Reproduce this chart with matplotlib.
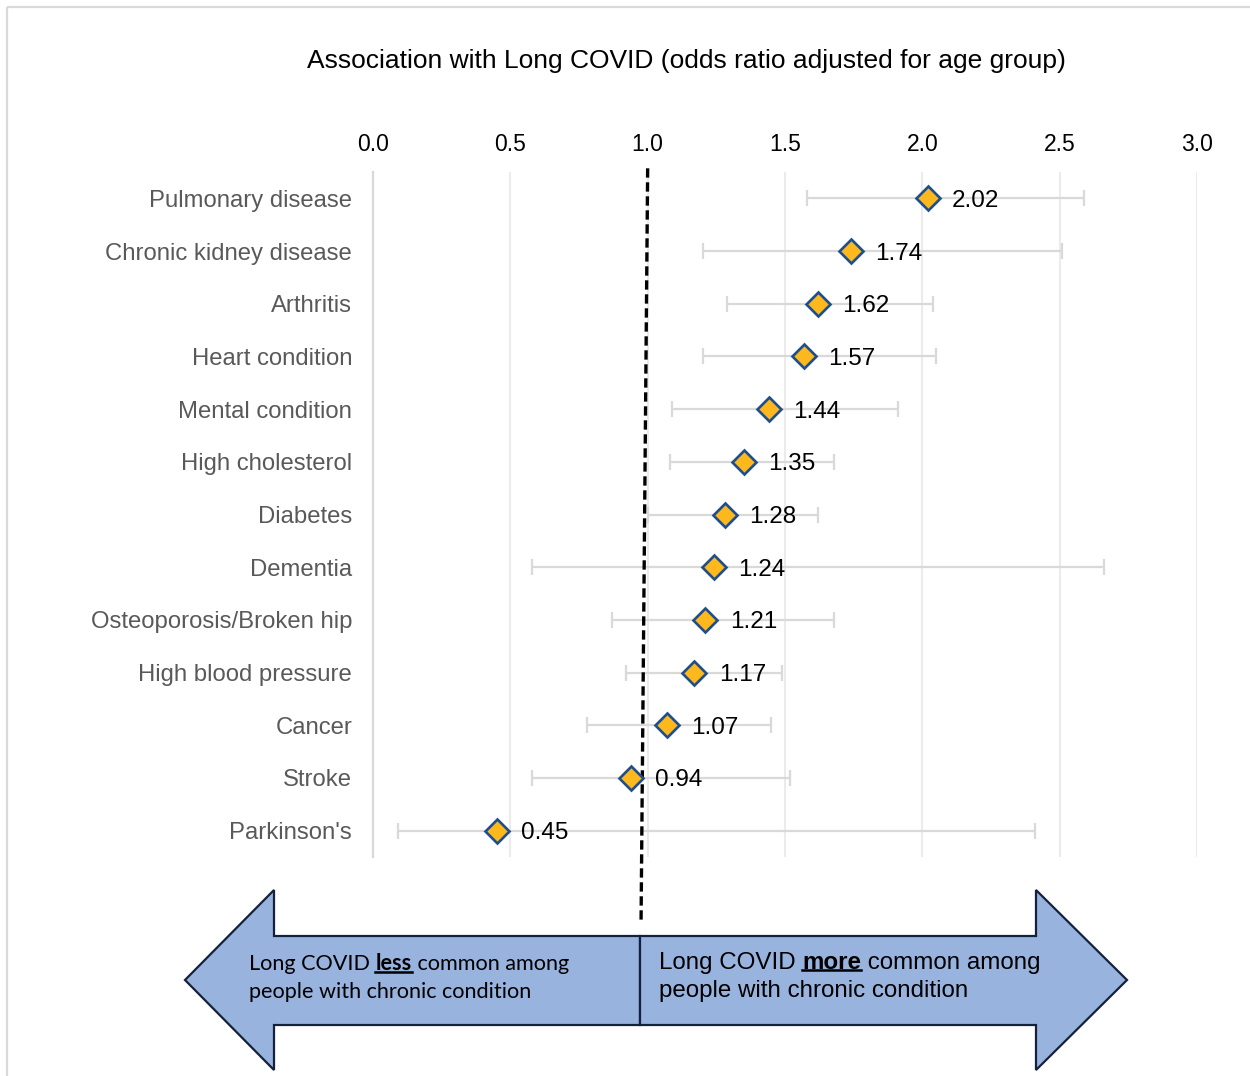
import matplotlib
matplotlib.use("Agg")
import matplotlib.pyplot as plt
from matplotlib.patches import Polygon, Rectangle

# data
conditions = ["Pulmonary disease", "Chronic kidney disease", "Arthritis", "Heart condition",
              "Mental condition", "High cholesterol", "Diabetes", "Dementia",
              "Osteoporosis/Broken hip", "High blood pressure", "Cancer", "Stroke", "Parkinson's"]
odds = [2.02, 1.74, 1.62, 1.57, 1.44, 1.35, 1.28, 1.24, 1.21, 1.17, 1.07, 0.94, 0.45]
ci_low = [1.58, 1.20, 1.29, 1.20, 1.09, 1.08, 1.00, 0.58, 0.87, 0.92, 0.78, 0.58, 0.09]
ci_high = [2.59, 2.51, 2.04, 2.05, 1.91, 1.68, 1.62, 2.66, 1.68, 1.49, 1.45, 1.52, 2.41]
xticks = [0.0, 0.5, 1.0, 1.5, 2.0, 2.5, 3.0]

W, H = 1250, 1076
fig = plt.figure(figsize=(W / 100, H / 100), dpi=100)
plt.rcParams['font.family'] = ['Liberation Sans', 'DejaVu Sans']

# main plot area in pixels: left 373, right 1197, top 172, bottom 857
ax = fig.add_axes([373 / W, 1 - 857 / H, (1197 - 373) / W, (857 - 172) / H])
ypos = list(range(len(conditions)))

err_lo = [o - l for o, l in zip(odds, ci_low)]
err_hi = [h - o for o, h in zip(odds, ci_high)]
ax.errorbar(odds, ypos, xerr=[err_lo, err_hi], fmt='none', ecolor='#D9D9D9',
            elinewidth=1.6, capsize=5.5, capthick=1.6, zorder=2)
ax.plot(odds, ypos, linestyle='none', marker='D', markersize=12,
        markerfacecolor='#FDB81E', markeredgecolor='#1F4E8C', markeredgewidth=1.9, zorder=4)
for o, y in zip(odds, ypos):
    ax.annotate(f"{o:.2f}", (o, y), xytext=(17.5, 0), textcoords='offset points',
                va='center_baseline', ha='left', fontsize=17.5, color='black', zorder=5)

# reference line at OR = 1 (slightly slanted like the original)
ax.plot([1.0, 0.976], [-0.57, 13.69], linestyle=(0, (2.8, 1.4)), color='black',
        linewidth=2.4, clip_on=False, zorder=3)

ax.set_xlim(0, 3.0)
ax.set_ylim(len(conditions) - 0.5, -0.5)
ax.set_xticks(xticks)
ax.set_xticklabels([f"{t:.1f}" for t in xticks], fontsize=16.5, color='black')
ax.xaxis.tick_top()
ax.set_yticks(ypos)
ax.set_yticklabels(conditions, fontsize=17.2, color='#595959')
ax.tick_params(axis='x', length=0, pad=11.5)
ax.tick_params(axis='y', length=0, pad=15)
ax.grid(axis='x', color='#EBEBEB', linewidth=1.5, zorder=0)
ax.set_axisbelow(True)
for s in ['top', 'right', 'bottom']:
    ax.spines[s].set_visible(False)
ax.spines['left'].set_color('#D9D9D9')
ax.spines['left'].set_linewidth(1.6)

fig.text(686 / W, 1 - 61 / H, "Association with Long COVID (odds ratio adjusted for age group)",
         ha='center', va='center', fontsize=19, color='black')

# overlay in pixel coords for arrows and frame
bg = fig.add_axes([0, 0, 1, 1], zorder=-1)
bg.set_xlim(0, W)
bg.set_ylim(H, 0)
bg.axis('off')
bg.add_patch(Rectangle((7, 7), W + 20, H + 20, fill=False, edgecolor='#D9D9D9', linewidth=1.6))

left_arrow = [(640, 936), (274, 936), (274, 890), (185, 980), (274, 1070), (274, 1025), (640, 1025)]
right_arrow = [(640, 936), (1036, 936), (1036, 890), (1127, 980), (1036, 1070), (1036, 1025), (640, 1025)]
for pts in (left_arrow, right_arrow):
    bg.add_patch(Polygon(pts, closed=True, facecolor='#99B3DF', edgecolor='#14213D', linewidth=1.6))

renderer = fig.canvas.get_renderer()


def advance(s, family, size, weight):
    t1 = bg.text(0, 0, s + "|", fontsize=size, family=family, fontweight=weight)
    t2 = bg.text(0, 0, "|", fontsize=size, family=family, fontweight=weight)
    w = t1.get_window_extent(renderer).width - t2.get_window_extent(renderer).width
    t1.remove()
    t2.remove()
    return w


def rich_line(x, y, parts, family, size):
    for s, bold in parts:
        weight = 'bold' if bold else 'normal'
        bg.text(x, y, s, fontsize=size, family=family, fontweight=weight,
                va='center_baseline', ha='left', color='black')
        w = advance(s, family, size, weight)
        if bold:
            bg.plot([x, x + w], [y + 10, y + 10], color='black', linewidth=1.8)
        x += w


rich_line(249, 962, [("Long COVID ", False), ("less", True), (" common among", False)], ['Lato'], 15.6)
rich_line(249, 990, [("people with chronic condition", False)], ['Lato'], 15.6)
rich_line(659, 960, [("Long COVID ", False), ("more", True), (" common among", False)], ['Liberation Sans'], 17.4)
rich_line(659, 988, [("people with chronic condition", False)], ['Liberation Sans'], 17.4)

fig.savefig("out.png", dpi=100)
